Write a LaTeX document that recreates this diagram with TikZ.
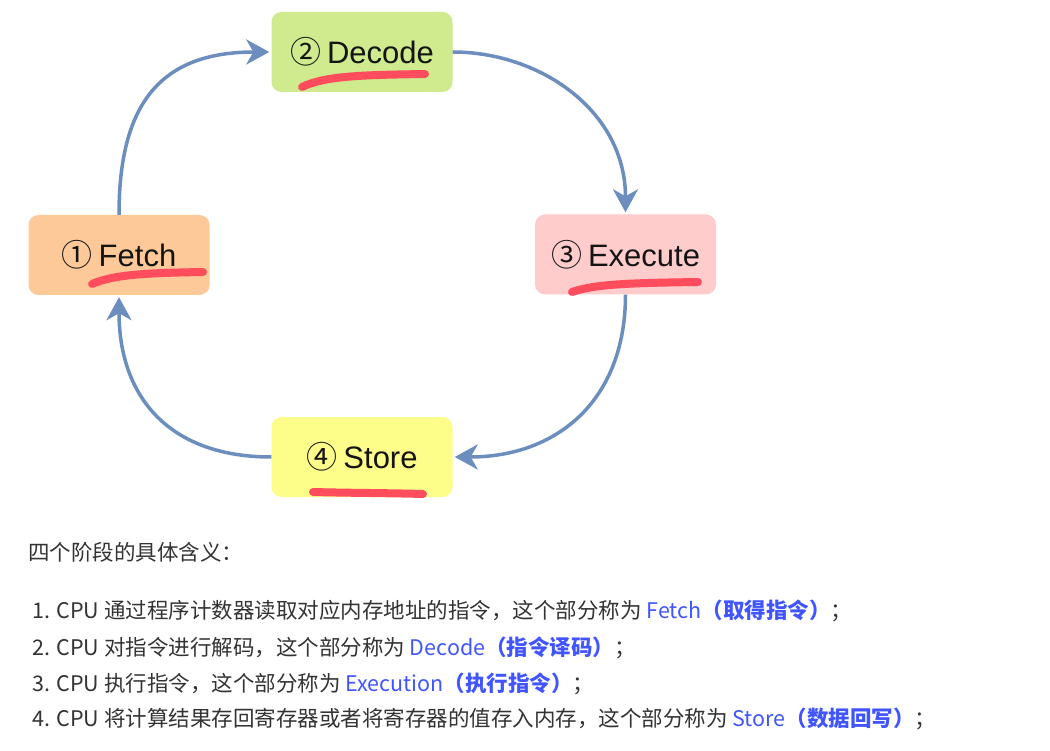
\documentclass[tikz,border=0pt]{standalone}
\usepackage{fontspec}
\setmainfont{Liberation Sans}
\newfontfamily\cjk{Noto Sans CJK SC}
\usetikzlibrary{arrows.meta}
\definecolor{arrowblue}{HTML}{6C8EBF}
\definecolor{ulred}{HTML}{FF4D5E}
\definecolor{fetchfill}{HTML}{FDC998}
\definecolor{decodefill}{HTML}{CFEB8D}
\definecolor{execfill}{HTML}{FFCCCC}
\definecolor{storefill}{HTML}{FDFD8A}
\definecolor{textgray}{HTML}{333333}
\definecolor{linkblue}{HTML}{4055FF}
\tikzset{
  stage/.style={rectangle, rounded corners=10pt, minimum width=181pt, minimum height=80pt,
    inner sep=0pt, text=black!92, font=\fontsize{31}{36}\selectfont},
  flow/.style={draw=arrowblue, line width=3.5pt, -{Stealth[length=23pt,width=25pt,inset=7pt]}, shorten >=2pt},
  uline/.style={draw=ulred, line width=8pt, line cap=round},
  txt/.style={inner sep=0pt, anchor=base west, text=textgray, font=\cjk\fontsize{21.5}{26}\selectfont}
}
\begin{document}
\begin{tikzpicture}[x=1pt,y=-1pt]
\useasboundingbox[fill=white] (0,0) rectangle (1050,751);
% stages
\node[stage, fill=fetchfill] (fetch) at (119,255) {{\cjk ①}\hspace{6pt}Fetch};
\node[stage, fill=decodefill] (decode) at (362,52) {{\cjk ②}\hspace{6pt}Decode};
\node[stage, fill=execfill] (execute) at (625.5,254.5) {{\cjk ③}\hspace{6pt}Execute};
\node[stage, fill=storefill] (store) at (362,457) {{\cjk ④}\hspace{6pt}Store};
% underlines
\draw[uline] (302,87) .. controls (325,76) and (360,75) .. (425,74);
\draw[uline] (92,284) .. controls (115,274) and (150,273) .. (203,272);
\draw[uline] (572,292) .. controls (595,284) and (630,283) .. (698,282);
\draw[uline] (313,492) .. controls (350,493) and (390,493) .. (423,494);
% connectors
\draw[flow] (fetch.north) .. controls +(0,-110) and +(-112,0) .. (decode.west);
\draw[flow] (decode.east) .. controls +(88,0) and +(0,-103) .. (execute.north);
\draw[flow] (execute.south) .. controls +(0,105) and +(105,0) .. (store.east);
\draw[flow] (store.west) .. controls +(-102,0) and +(0,102) .. (fetch.south);
% text
\node[txt] (head) at (28,560) {四个阶段的具体含义：};
\node[txt] (l1) at (32,618) {1. CPU 通过程序计数器读取对应内存地址的指令，这个部分称为 \textcolor{linkblue}{Fetch\textbf{（取得指令）}}；};
\node[txt] (l2) at (32,655) {2. CPU 对指令进行解码，这个部分称为 \textcolor{linkblue}{Decode\textbf{（指令译码）}}；};
\node[txt] (l3) at (32,691) {3. CPU 执行指令，这个部分称为 \textcolor{linkblue}{Execution\textbf{（执行指令）}}；};
\node[txt] (l4) at (32,726) {4. CPU 将计算结果存回寄存器或者将寄存器的值存入内存，这个部分称为 \textcolor{linkblue}{Store\textbf{（数据回写）}}；};
\end{tikzpicture}
\end{document}
